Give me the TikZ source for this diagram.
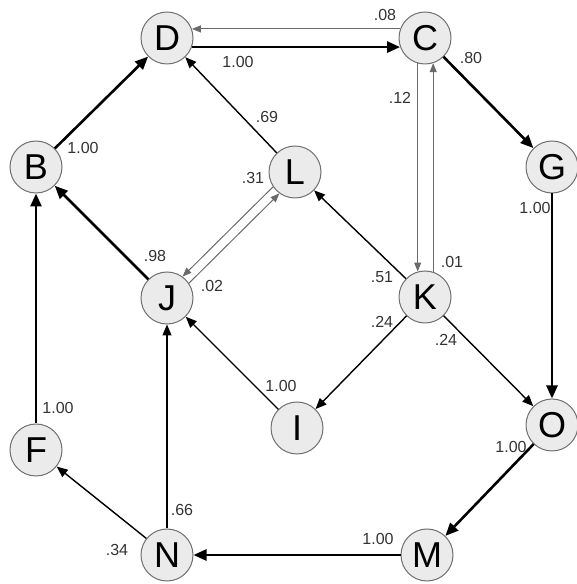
\documentclass[tikz,border=0pt]{standalone}
\usepackage{fontspec}
\setmainfont{Liberation Sans}
\usetikzlibrary{arrows.meta}
\definecolor{nodefill}{HTML}{EBEBEB}
\definecolor{nodeline}{HTML}{707070}
\definecolor{lbl}{HTML}{333333}
\definecolor{thinline}{HTML}{6A6A6A}
\begin{document}
\begin{tikzpicture}[x=1pt,y=1pt,
  st/.style={circle,draw=nodeline,fill=nodefill,line width=1pt,minimum size=52pt,inner sep=0pt,font=\fontsize{36}{36}\selectfont},
  heavy/.style={line width=2.6pt,-{Triangle[length=13pt,width=11pt]}},
  mid/.style={line width=1.4pt,-{Triangle[length=11pt,width=9pt]}},
  light/.style={line width=1pt,draw=thinline,-{Triangle[length=9pt,width=7pt]},color=thinline},
  lab/.style={text=lbl,font=\fontsize{16}{16}\selectfont,inner sep=0pt}]
\useasboundingbox (0,0) rectangle (577,584);
\node[st] (D) at (167,546) {D};
\node[st] (C) at (425,546) {C};
\node[st] (B) at (36,417) {B};
\node[st] (L) at (295,412) {L};
\node[st] (G) at (552,417) {G};
\node[st] (J) at (167,286) {J};
\node[st] (K) at (425,287) {K};
\node[st] (I) at (297,156) {I};
\node[st] (O) at (552,159) {O};
\node[st] (F) at (36,134) {F};
\node[st] (N) at (167,29) {N};
\node[st] (M) at (427,29) {M};
% edges
\draw[heavy] (D.-20) -- (C.200);
\draw[light] (C.160) -- (D.20);
\draw[heavy] (C) -- (G);
\draw[heavy] (G) -- (O);
\draw[heavy] (O) -- (M);
\draw[heavy] (M) -- (N);
\draw[mid] (N) -- (F);
\draw[mid] (N) -- (J);
\draw[heavy] (F) -- (B);
\draw[heavy] (B) -- (D);
\draw[heavy] (J) -- (B);
\draw[mid] (L) -- (D);
\draw[light] (L.214) -- (J.54);
\draw[light] (J.34) -- (L.234);
\draw[light] (C.254) -- (K.106);
\draw[light] (K.72) -- (C.288);
\draw[mid] (K) -- (L);
\draw[mid] (K) -- (I);
\draw[mid] (K) -- (O);
\draw[mid] (I) -- (J);
% labels
\node[lab] (l1) at (238,522) {1.00};
\node[lab] (l2) at (385,569) {.08};
\node[lab] (l3) at (471,526) {.80};
\node[lab] (l4) at (400,486) {.12};
\node[lab] (l5) at (452,322) {.01};
\node[lab] (l6) at (382,307) {.51};
\node[lab] (l7) at (382,262) {.24};
\node[lab] (l8) at (446,244) {.24};
\node[lab] (l9) at (535,376) {1.00};
\node[lab] (l10) at (511,137) {1.00};
\node[lab] (l11) at (378,45) {1.00};
\node[lab] (l12) at (281,198) {1.00};
\node[lab] (l13) at (182,74) {.66};
\node[lab] (l14) at (117,34) {.34};
\node[lab] (l15) at (58,176) {1.00};
\node[lab] (l16) at (83,436) {1.00};
\node[lab] (l17) at (155,328) {.98};
\node[lab] (l18) at (253,406) {.31};
\node[lab] (l19) at (212,298) {.02};
\node[lab] (l20) at (267,467) {.69};
\end{tikzpicture}
\end{document}
